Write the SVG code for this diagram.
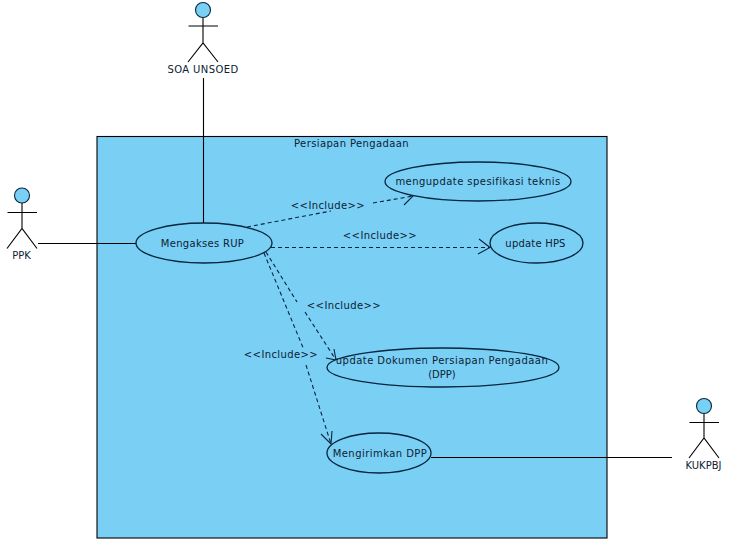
<svg xmlns="http://www.w3.org/2000/svg" width="737" height="543" viewBox="0 0 737 543">
<style>
text{font-family:"DejaVu Sans",sans-serif;font-size:10px;fill:#0c2233;text-anchor:middle}
.uc{fill:#7acff5;stroke:#06263f;stroke-width:1.3}
.act{fill:none;stroke:#000;stroke-width:1.1}
.head{fill:#7acff5;stroke:#06263f;stroke-width:1.1}
.a{fill:none;stroke:#000;stroke-width:1.1}
.d{fill:none;stroke:#06263f;stroke-width:1.1;stroke-dasharray:4 3}
.h{fill:none;stroke:#06263f;stroke-width:1.1}
</style>
<rect width="737" height="543" fill="#fff"/>
<g id="boundary">
<rect x="97" y="136.500" width="510" height="401.500" fill="#7acff5" stroke="#000" stroke-width="1.100"/>
<text x="351.500" y="147" style="letter-spacing:.38px">Persiapan Pengadaan</text>
</g>
<g id="connectors">
<path class="a" d="M203.500 78V224M38 243.500H136M431 457.500H672"/>
<path class="d" d="M247 227L331 211M373 203L413 196"/>
<path class="d" d="M271 247.500H490"/>
<path class="d" d="M266 252L297 302M305 312L336 360"/>
<path class="d" d="M264 253L304 350M306 365L331 444"/>
<path class="h" d="M402 192L413 196L404 205"/>
<path class="h" d="M479 239L490 247.500L478 254"/>
<path class="h" d="M334 349L336 360L326 358"/>
<path class="h" d="M332 431L331 444L321 434"/>
<text x="328" y="209" style="letter-spacing:.4px">&lt;&lt;Include&gt;&gt;</text>
<text x="380" y="239" style="letter-spacing:.4px">&lt;&lt;Include&gt;&gt;</text>
<text x="344" y="309" style="letter-spacing:.4px">&lt;&lt;Include&gt;&gt;</text>
<text x="281" y="358" style="letter-spacing:.4px">&lt;&lt;Include&gt;&gt;</text>
</g>
<g id="soa"><circle class="head" cx="203" cy="10" r="7.500"/><path class="act" d="M203 18V43M188.500 26H218M188 62L203 43L218 62"/><text x="203" y="73" style="letter-spacing:.4px">SOA UNSOED</text></g>
<g id="ppk"><circle class="head" cx="22" cy="195.500" r="7.500"/><path class="act" d="M22 203V228.500M7.500 212.500H37M7 248.500L22 228.500L37 248.500"/><text x="21.500" y="259">PPK</text></g>
<g id="kukpbj"><circle class="head" cx="704" cy="406" r="7.500"/><path class="act" d="M704 414V438M689.500 422.500H719M689 458L704 438L719 458"/><text x="703.500" y="469">KUKPBJ</text></g>
<g id="uc-rup"><ellipse class="uc" cx="204" cy="243" rx="68" ry="20"/><text x="202.500" y="247" style="letter-spacing:.3px">Mengakses RUP</text></g>
<g id="uc-spek"><ellipse class="uc" cx="478" cy="181.500" rx="93" ry="19.500"/><text x="478" y="185" style="letter-spacing:.45px">mengupdate spesifikasi teknis</text></g>
<g id="uc-hps"><ellipse class="uc" cx="536.500" cy="243" rx="46.500" ry="20"/><text x="535.500" y="247" style="letter-spacing:.2px">update HPS</text></g>
<g id="uc-dok"><ellipse class="uc" cx="443" cy="367.500" rx="116" ry="19.500"/><text x="442" y="364" style="letter-spacing:.45px">update Dokumen Persiapan Pengadaan</text><text x="442" y="378">(DPP)</text></g>
<g id="uc-kirim"><ellipse class="uc" cx="379" cy="453" rx="52" ry="20"/><text x="380" y="457" style="letter-spacing:.45px">Mengirimkan DPP</text></g>
</svg>
